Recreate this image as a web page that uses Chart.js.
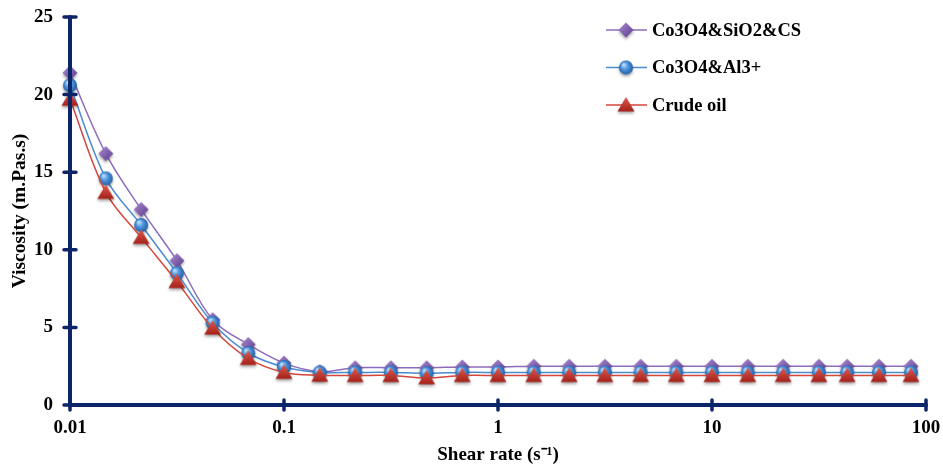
<!DOCTYPE html>
<html>
  <head>
    <meta charset="utf-8" />
    <title>Viscosity vs shear rate</title>
    <style>
      html, body { margin: 0; padding: 0; background: #ffffff; }
    </style>
  </head>
  <body>
    <canvas id="viscChart" width="943" height="468"></canvas>

    <script src="https://cdn.jsdelivr.net/npm/chart.js@4/dist/chart.umd.min.js"></script>
    <script>
      // shear rate (1/s) and measured viscosity (mPa.s) for each sample
      const shearRate = [0.01, 0.0147, 0.0215, 0.0316, 0.0464, 0.0681, 0.1, 0.147, 0.215, 0.316, 0.464, 0.681,
        1, 1.47, 2.15, 3.16, 4.64, 6.81, 10, 14.7, 21.5, 31.6, 42.8, 60.3, 85.1];
      const siO2CS = [21.4, 16.2, 12.6, 9.3, 5.5, 3.9, 2.7, 2.15, 2.4, 2.4, 2.4, 2.45, 2.45,
        2.5, 2.5, 2.5, 2.5, 2.5, 2.5, 2.5, 2.5, 2.5, 2.5, 2.5, 2.5];
      const al3 = [20.6, 14.6, 11.6, 8.5, 5.3, 3.35, 2.45, 2.1, 2.1, 2.1, 2.05, 2.1, 2.1,
        2.1, 2.1, 2.1, 2.1, 2.1, 2.1, 2.1, 2.1, 2.1, 2.1, 2.1, 2.1];
      const crudeOil = [19.7, 13.7, 10.8, 7.95, 4.95, 3.0, 2.1, 1.92, 1.9, 1.9, 1.75, 1.9, 1.9,
        1.9, 1.9, 1.9, 1.9, 1.9, 1.9, 1.9, 1.9, 1.9, 1.9, 1.9, 1.9];
      const seriesNames = ["Co3O4&SiO2&CS", "Co3O4&Al3+", "Crude oil"];
      const xTicks = [0.01, 0.1, 1, 10, 100];
      const yTicks = [0, 5, 10, 15, 20, 25];

      const AXIS = "#0c2468";
      const SERIF = "'Liberation Serif', 'Times New Roman', serif";

      // shaded marker images with a soft drop shadow
      function makeMarker(kind) {
        const c = document.createElement("canvas");
        c.width = 26; c.height = 26;
        const g = c.getContext("2d");
        g.shadowColor = "rgba(0,0,0,0.35)";
        g.shadowBlur = 3;
        g.shadowOffsetY = 2;
        const cx = 13, cy = 13;
        let grad;
        g.beginPath();
        if (kind === "diamond") {
          grad = g.createLinearGradient(cx - 7, cy - 7, cx + 7, cy + 7);
          grad.addColorStop(0, "#a989d0");
          grad.addColorStop(1, "#5d3c8c");
          g.moveTo(cx, cy - 7.5); g.lineTo(cx + 7.5, cy); g.lineTo(cx, cy + 7.5); g.lineTo(cx - 7.5, cy);
        } else if (kind === "sphere") {
          grad = g.createRadialGradient(cx - 2.5, cy - 3, 0.5, cx, cy, 7.5);
          grad.addColorStop(0, "#bfe0ff");
          grad.addColorStop(0.45, "#4f96dc");
          grad.addColorStop(1, "#1d5aa3");
          g.arc(cx, cy, 7, 0, Math.PI * 2);
        } else {
          grad = g.createLinearGradient(cx, cy - 8, cx, cy + 7);
          grad.addColorStop(0, "#e0594c");
          grad.addColorStop(1, "#a11f18");
          g.moveTo(cx, cy - 8); g.lineTo(cx + 8.5, cy + 6.5); g.lineTo(cx - 8.5, cy + 6.5);
        }
        g.closePath();
        g.fillStyle = grad;
        g.fill();
        return c;
      }

      const markers = [makeMarker("diamond"), makeMarker("sphere"), makeMarker("triangle")];
      const lineColors = ["#8d6cbc", "#4b8bd0", "#d4463b"];
      const values = [siO2CS, al3, crudeOil];

      const datasets = values.map((vals, i) => ({
        label: seriesNames[i],
        data: shearRate.map((x, k) => ({ x: x, y: vals[k] })),
        borderColor: lineColors[i],
        borderWidth: 1.5,
        pointStyle: markers[i],
        pointRadius: 7,
        tension: 0.35,
        clip: false,
        order: 3 - i,
      }));

      // axis lines with ticks that cross them
      const axesPlugin = {
        id: "crossAxes",
        afterDatasetsDraw(chart) {
          const ctx = chart.ctx;
          const xs = chart.scales.x, ys = chart.scales.y;
          const x0 = xs.getPixelForValue(xTicks[0]), x1 = xs.getPixelForValue(xTicks[xTicks.length - 1]);
          const y0 = ys.getPixelForValue(0), y1 = ys.getPixelForValue(25);
          ctx.save();
          ctx.strokeStyle = AXIS;
          ctx.lineWidth = 4;
          ctx.lineCap = "round";
          ctx.beginPath();
          ctx.moveTo(x0, y1); ctx.lineTo(x0, y0); ctx.lineTo(x1, y0);
          ctx.stroke();
          ctx.lineWidth = 3.5;
          ctx.beginPath();
          xTicks.forEach(v => {
            const p = xs.getPixelForValue(v);
            ctx.moveTo(p, y0 - 5); ctx.lineTo(p, y0 + 5);
          });
          yTicks.forEach(v => {
            const p = ys.getPixelForValue(v);
            ctx.moveTo(x0 - 6, p); ctx.lineTo(x0 + 6, p);
          });
          ctx.stroke();
          ctx.restore();
        },
      };

      // legend drawn inside the plot, top right
      const legendPlugin = {
        id: "cornerLegend",
        afterDraw(chart) {
          const ctx = chart.ctx;
          ctx.save();
          ctx.font = "bold 18.5px " + SERIF;
          ctx.textBaseline = "middle";
          ctx.fillStyle = "#000";
          chart.data.datasets.forEach((ds, i) => {
            const y = 30 + i * 37.5;
            ctx.strokeStyle = ds.borderColor;
            ctx.lineWidth = 1.5;
            ctx.beginPath();
            ctx.moveTo(606, y); ctx.lineTo(647, y);
            ctx.stroke();
            const m = ds.pointStyle;
            ctx.drawImage(m, 626 - m.width / 2, y - m.height / 2);
            ctx.fillText(ds.label, 652, y + 1);
          });
          ctx.restore();
        },
      };

      const ctx = document.getElementById("viscChart").getContext("2d");
      const viscChart = new Chart(ctx, {
        type: "line",
        data: { datasets: datasets },
        plugins: [axesPlugin, legendPlugin],
        options: {
          responsive: false,
          animation: false,
          layout: { autoPadding: false, padding: { left: 0, right: 17, top: 17, bottom: 0 } },
          plugins: { legend: { display: false }, tooltip: { enabled: false } },
          scales: {
            x: {
              type: "logarithmic",
              min: 0.01,
              max: 100,
              grid: { display: false, drawTicks: false },
              border: { display: false },
              afterBuildTicks: s => { s.ticks = xTicks.map(v => ({ value: v })); },
              afterFit: s => { s.height = 63; s.paddingLeft = 0; s.paddingRight = 0; },
              ticks: {
                padding: 12,
                color: "#000",
                font: { family: SERIF, size: 19, weight: "bold" },
                callback: v => String(v),
              },
              title: {
                display: true,
                text: "Shear rate (s\u207B\u00B9)",
                color: "#000",
                font: { family: SERIF, size: 19, weight: "bold" },
                padding: { top: 0, bottom: 2 },
              },
            },
            y: {
              min: 0,
              max: 25,
              grid: { display: false, drawTicks: false },
              border: { display: false },
              afterBuildTicks: s => { s.ticks = yTicks.map(v => ({ value: v })); },
              afterFit: s => { s.width = 70; s.paddingTop = 0; s.paddingBottom = 0; },
              ticks: {
                padding: 17,
                color: "#000",
                font: { family: SERIF, size: 19, weight: "bold" },
              },
              title: {
                display: true,
                text: "Viscosity (m.Pas.s)",
                color: "#000",
                font: { family: SERIF, size: 19.5, weight: "bold" },
                padding: { top: 8, bottom: 0 },
              },
            },
          },
        },
      });
    </script>
  </body>
</html>
